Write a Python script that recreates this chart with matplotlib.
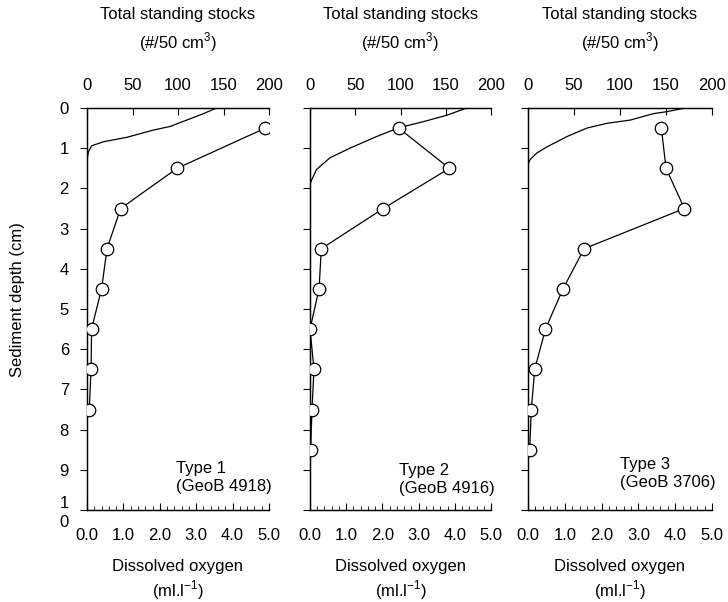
import numpy as np
import matplotlib.pyplot as plt
from matplotlib.ticker import MultipleLocator

plt.rcParams['font.family'] = ['Liberation Sans', 'DejaVu Sans']
plt.rcParams['font.size'] = 12

# benthic foram standing stocks (#/50 cm3) per 1 cm depth interval
stock_depth = [0.5, 1.5, 2.5, 3.5, 4.5, 5.5, 6.5, 7.5, 8.5]
stocks_4918 = [196, 99, 37, 22, 16, 5, 4.5, 2.5]
stocks_4916 = [98, 154, 81, 12.5, 10, 0, 4.4, 2.2, 0.7]
stocks_3706 = [145, 150, 170, 61, 38, 19, 7.3, 3.6, 1.8]

# pore water oxygen profiles (ml/l)
o2_depth_4918 = [0, 0.14, 0.3, 0.46, 0.55, 0.73, 0.84, 0.94, 1.08, 1.3]
o2_4918 = [3.56, 3.2, 2.74, 2.28, 1.82, 1.09, 0.45, 0.13, 0.04, 0.0]
o2_depth_4916 = [0, 0.18, 0.34, 0.49, 0.71, 1.0, 1.24, 1.53, 1.78, 1.9]
o2_4916 = [4.33, 3.78, 3.13, 2.46, 1.84, 1.10, 0.55, 0.18, 0.05, 0.0]
o2_depth_3706 = [0, 0.09, 0.14, 0.3, 0.38, 0.5, 0.71, 0.97, 1.12, 1.28, 1.4]
o2_3706 = [4.27, 3.78, 3.41, 2.78, 2.15, 1.6, 1.06, 0.51, 0.24, 0.06, 0.0]

types = ['Type 1\n(GeoB 4918)', 'Type 2\n(GeoB 4916)', 'Type 3\n(GeoB 3706)']
stocks = [stocks_4918, stocks_4916, stocks_3706]
o2_depths = [o2_depth_4918, o2_depth_4916, o2_depth_3706]
o2_vals = [o2_4918, o2_4916, o2_3706]

W, H = 728, 602
fig = plt.figure(figsize=(W / 100, H / 100), dpi=100)

lefts = [87, 310, 528]
widths = [182, 181, 184]
ax_top, ax_bot = 108, 510
label_pos = [(0.49, 0.082), (0.49, 0.075), (0.50, 0.09)]


def fy(py):
    return 1 - py / H


for i in range(3):
    ax = fig.add_axes([lefts[i] / W, fy(ax_bot), widths[i] / W,
                       (ax_bot - ax_top) / H])
    ax.plot(o2_vals[i], o2_depths[i], color='black', lw=0.9)
    ax.set_xlim(0, 5)
    ax.set_ylim(10, 0)
    ax.spines['right'].set_visible(False)
    ax.set_xticks(np.arange(0, 6))
    ax.set_xticklabels(['%.1f' % v for v in np.arange(0, 6)])
    ax.xaxis.set_minor_locator(MultipleLocator(0.2))
    ax.tick_params(axis='x', direction='in', length=5, width=0.8, pad=13)
    ax.tick_params(axis='x', which='minor', direction='in', length=3, width=0.6)
    ax.set_yticks(np.arange(0, 11))
    ax.tick_params(axis='y', direction='out', length=5, width=0.8, pad=8)
    if i == 0:
        ax.set_yticklabels([str(v) for v in range(10)] + ['1\n0'],
                           linespacing=1.3)
    else:
        ax.set_yticklabels([])
    ax.text(label_pos[i][0], label_pos[i][1], types[i], transform=ax.transAxes,
            ha='left', va='center', linespacing=1.25)

    top = ax.twiny()
    top.plot(stocks[i], stock_depth[:len(stocks[i])], color='black', lw=0.9,
             marker='o', markersize=9, markerfacecolor='white',
             markeredgecolor='black', markeredgewidth=0.9, zorder=3)
    top.set_xlim(0, 200)
    top.set_ylim(10, 0)
    top.spines['right'].set_visible(False)
    top.set_xticks([0, 50, 100, 150, 200])
    top.tick_params(axis='x', direction='in', length=5, width=0.8, pad=11)
    for s in ['left', 'top', 'bottom']:
        ax.spines[s].set_linewidth(0.9)
        top.spines[s].set_linewidth(0.9)

    cx = (lefts[i] + widths[i] / 2) / W
    fig.text(cx, fy(15), 'Total standing stocks', ha='center', va='center')
    fig.text(cx, fy(42), '(#/50 cm$^{\\mathregular{3}}$)', ha='center',
             va='center')
    fig.text(cx, fy(566), 'Dissolved oxygen', ha='center', va='center')
    fig.text(cx, fy(590), '(ml.l$^{\\mathregular{-1}}$)', ha='center',
             va='center')

fig.text(18 / W, fy(300), 'Sediment depth (cm)', rotation=90,
         ha='center', va='center')

fig.savefig('out.png', dpi=100)
